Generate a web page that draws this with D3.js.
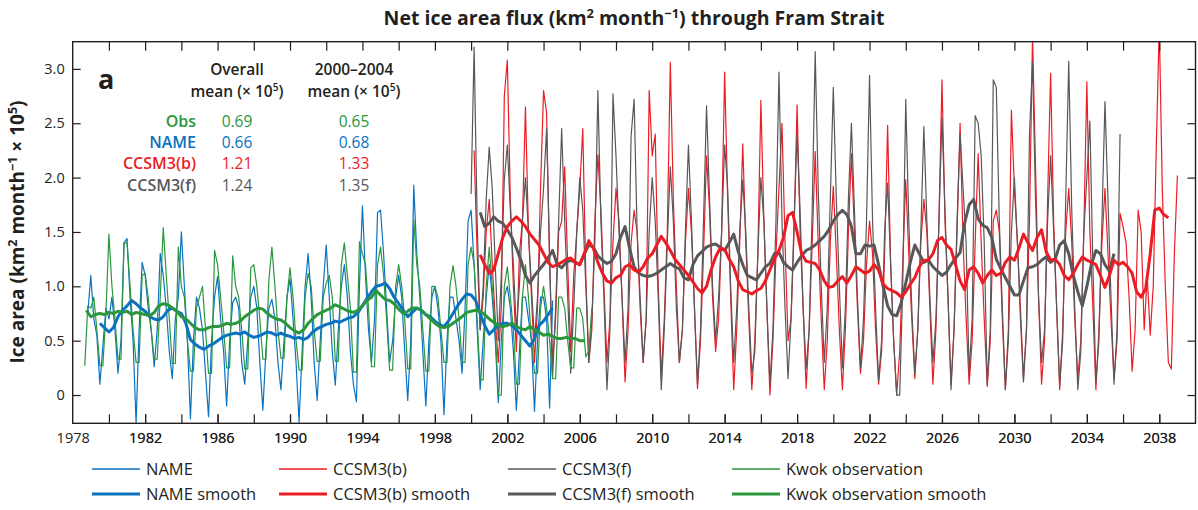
<!DOCTYPE html>
<html>
<head>
<meta charset="utf-8">
<script src="https://cdn.jsdelivr.net/npm/d3@7"></script>
<style>
body { margin: 0; background: #fff; }
svg { display: block; font-family: "Open Sans", "Noto Sans", sans-serif; }
</style>
</head>
<body>
<svg id="chart" width="1198" height="510"></svg>
<script>
// ---- data (units: 10^5 km^2 per month) ----
// raw series: one value every two months (Jan, Mar, May, Jul, Sep, Nov)
const nameStart = 1978 + 10 / 12;
const nameRaw = [0.75,
  1.1, 0.7, 0.55, 0.1, 0.45, 0.8,
  0.7, 0.9, 0.6, 0.2, 0.5, 1.4,
  1.44, 0.9, 0.5, -0.26, 0.6, 1.22,
  1.1, 0.8, 0.6, 0.26, 0.6, 1.3,
  1.1, 0.8, 0.4, 0.15, 0.7, 0.9,
  1.5, 1.0, 0.5, -0.22, 0.5, 0.9,
  0.8, 0.6, 0.2, -0.2, 0.5, 0.9,
  1.09, 0.7, 0.4, -0.1, 0.5, 0.85,
  0.9, 0.8, 0.3, 0.1, 0.5, 0.9,
  1.0, 0.8, 0.3, -0.14, 0.4, 0.8,
  0.88, 0.7, 0.3, 0.05, 0.5, 0.9,
  1.07, 0.7, 0.3, -0.25, 0.4, 1.0,
  1.3, 0.9, 0.3, -0.05, 0.5, 1.0,
  1.38, 0.9, 0.4, 0.09, 0.6, 1.0,
  1.2, 0.9, 0.4, 0.1, -0.06, 1.0,
  1.74, 1.1, 0.6, 0.3, 0.7, 1.68,
  1.7, 1.3, 0.8, 0.3, 0.5, 0.9,
  1.1, 0.9, 0.4, -0.05, 0.5, 1.93,
  1.3, 0.9, 0.4, -0.1, 0.5, 0.9,
  1.0, 0.8, 0.5, -0.18, 0.5, 0.9,
  0.9, 0.7, 0.5, 0.2, 0.8, 1.6,
  1.7, 1.2, 0.6, 0.05, 0.5, 0.9,
  1.2, 0.9, 0.5, -0.07, 0.5, 0.9,
  1.0, 0.8, 0.4, -0.14, 0.4, 0.9,
  0.9, 0.7, 0.5, -0.15, 0.5, 0.9,
  0.9, 0.7, -0.12, 0.87];

const obsStart = 1978 + 8 / 12;
const obsRaw = [0.27, 0.82,
  0.8, 0.9, 0.6, 0.27, 0.27, 0.75,
  1.48, 1.0, 0.7, 0.33, 0.33, 1.4,
  1.4, 1.0, 0.6, 0.3, 0.3, 1.1,
  1.12, 0.9, 0.6, 0.33, 0.33, 0.9,
  1.54, 1.1, 0.7, 0.29, 0.29, 1.36,
  1.0, 0.9, 0.5, 0.22, 0.22, 0.8,
  0.9, 1.0, 0.6, 0.2, 0.2, 1.33,
  1.2, 0.9, 0.6, 0.25, 0.25, 1.28,
  1.0, 0.9, 0.6, 0.24, 0.24, 1.17,
  1.2, 1.0, 0.7, 0.33, 0.33, 1.06,
  1.36, 1.0, 0.6, 0.34, 0.34, 0.9,
  1.17, 0.9, 0.5, 0.23, 0.23, 0.9,
  1.12, 1.0, 0.6, 0.31, 0.31, 0.9,
  1.03, 1.1, 0.9, 0.31, 0.31, 1.2,
  1.4, 1.1, 0.8, 0.21, 0.21, 1.41,
  1.3, 1.2, 0.8, 0.26, 0.26, 1.2,
  1.36, 1.1, 0.7, 0.23, 0.23, 1.0,
  1.2, 1.0, 0.7, 0.24, 0.24, 1.61,
  1.2, 1.0, 0.6, 0.22, 0.22, 1.0,
  1.0, 0.9, 0.6, 0.3, 0.3, 1.0,
  1.19, 1.0, 0.7, 0.3, 0.3, 1.2,
  1.36, 1.2, 0.7, 0.14, 0.14, 1.0,
  1.36, 1.0, 0.6, 0.0, 0.0, 1.0,
  1.18, 0.9, 0.6, 0.1, 0.1, 0.9,
  1.2, 0.9, 0.5, 0.2, 0.2, 0.8,
  1.0, 0.8, 0.5, 0.15, 0.15, 0.9,
  0.9, 0.8, 0.5, 0.25, 0.25, 0.8,
  0.8, 0.7, 0.35, 0.41, 0.8];

const ccsmBStart = 2000 + 2 / 12;
const ccsmBRaw = [2.25, 1.3, 0.6, 0.9, 1.5,
  1.8, 1.2, 0.7, 0.3, 0.8, 2.75,
  3.08, 1.8, 1.0, 0.4, 1.3, 1.6,
  2.65, 1.5, 0.9, 0.3, 0.8, 1.9,
  2.8, 2.6, 1.2, 0.3, 0.7, 1.5,
  1.6, 2.1, 1.2, 0.4, 1.1, 1.5,
  1.9, 2.45, 1.1, 0.3, 0.6, 1.6,
  2.21, 1.7, 1.0, 0.3, 0.7, 1.4,
  1.9, 1.6, 0.9, 0.12, 0.6, 1.4,
  1.7, 1.5, 0.8, 0.3, 0.7, 2.8,
  2.2, 2.4, 1.0, 0.17, 0.7, 1.5,
  3.06, 1.8, 1.0, 0.3, 0.6, 1.4,
  1.9, 1.5, 0.8, 0.06, 0.5, 1.3,
  2.2, 1.7, 0.9, 0.4, 0.7, 1.5,
  2.97, 1.8, 0.9, 0.05, 0.6, 1.4,
  2.31, 1.4, 0.7, 0.05, 0.5, 1.3,
  2.71, 1.6, 0.8, 0.0, 0.5, 1.3,
  1.9, 2.5, 1.4, 0.5, 0.7, 1.5,
  2.67, 1.5, 0.8, 0.06, 0.6, 1.4,
  2.24, 1.4, 0.7, 0.05, 0.5, 1.4,
  1.92, 1.3, 0.6, 0.05, 0.6, 1.5,
  2.22, 1.5, 0.8, 0.2, 0.5, 1.2,
  1.6, 1.3, 0.6, 0.1, 0.4, 1.3,
  2.48, 1.2, 0.5, 0.0, 0.4, 1.2,
  1.98, 1.3, 0.7, 0.15, 0.6, 1.4,
  1.8, 1.5, 0.8, 0.1, 0.6, 1.6,
  2.9, 1.6, 0.9, 0.1, 0.6, 1.5,
  2.5, 1.4, 0.7, 0.1, 0.5, 1.4,
  2.22, 1.4, 0.7, 0.08, 0.5, 1.6,
  1.7, 1.5, 0.7, 0.05, 0.6, 2.62,
  1.9, 1.4, 0.8, 0.15, 0.6, 1.6,
  3.3, 2.1, 0.9, 0.1, 0.5, 1.8,
  2.96, 1.6, 0.8, 0.05, 0.6, 1.5,
  1.9, 1.4, 0.7, 0.15, 0.5, 1.5,
  2.88, 1.5, 0.8, 0.05, 0.6, 1.4,
  1.9, 1.3, 0.7, 0.15, 0.5, 1.67,
  1.55, 1.4, 0.9, 0.22, 0.6, 1.7,
  1.5, 0.6, 1.1, 0.55, 1.0, 2.27,
  3.4, 1.9, 1.0, 0.3, 0.24, 1.3,
  2.02];

const ccsmFStart = 2000;
const ccsmFRaw = [1.85, 3.2, 1.6, 0.6, 1.0, 1.8,
  2.28, 1.9, 1.2, 0.5, 1.1, 1.98,
  2.3, 1.7, 1.2, 0.6, 1.0, 1.6,
  2.0, 1.5, 1.0, 0.5, 0.9, 1.5,
  1.9, 2.45, 1.3, 0.16, 0.8, 1.6,
  2.45, 1.6, 0.9, 0.2, 0.8, 1.5,
  2.0, 1.7, 1.0, 0.3, 0.7, 1.4,
  2.8, 1.6, 0.9, 0.05, 0.6, 2.77,
  2.2, 1.5, 0.9, 0.3, 0.8, 2.38,
  2.72, 1.5, 0.9, 0.3, 0.7, 1.5,
  2.0, 1.6, 0.9, 0.05, 0.6, 1.4,
  2.1, 1.6, 0.8, 0.3, 0.6, 1.5,
  2.3, 1.6, 0.8, 0.1, 0.6, 1.6,
  2.66, 1.8, 1.0, 0.5, 0.9, 1.5,
  2.3, 1.9, 1.0, 0.3, 0.8, 1.5,
  1.98, 1.5, 0.8, 0.2, 0.4, 1.3,
  2.0, 1.6, 0.8, 0.1, 0.6, 1.6,
  2.97, 1.6, 0.8, 0.15, 0.7, 1.6,
  2.4, 1.7, 0.8, 0.24, 0.6, 1.7,
  3.16, 1.9, 1.0, 0.3, 0.8, 1.8,
  2.83, 1.8, 1.0, 0.25, 0.8, 1.8,
  2.5, 1.7, 0.9, 0.25, 0.7, 1.6,
  2.94, 1.6, 0.8, 0.13, 0.5, 1.5,
  1.95, 1.2, 0.5, 0.0, 0.0, 1.0,
  2.72, 1.6, 0.8, 0.2, 0.6, 1.5,
  2.47, 1.6, 0.9, 0.3, 0.7, 1.6,
  2.55, 1.7, 0.9, 0.05, 0.6, 1.6,
  2.4, 1.9, 1.4, 0.2, 0.7, 2.57,
  2.5, 2.2, 1.4, 0.1, 0.6, 2.9,
  2.83, 1.6, 0.8, 0.05, 0.5, 1.5,
  2.0, 1.4, 0.7, 0.12, 0.6, 2.4,
  3.06, 1.8, 0.9, 0.3, 0.6, 1.6,
  2.2, 1.5, 0.8, 0.1, 0.5, 1.8,
  3.07, 1.7, 0.8, 0.05, 0.4, 1.5,
  2.0, 2.52, 1.2, 0.12, 0.5, 1.6,
  2.7, 1.8, 0.9, 0.1, 0.6, 2.4];

// smoothed series: one value per quarter
const nameSmoothStart = 1979.5;
const nameSmooth = [0.66, 0.62,
  0.58, 0.62, 0.72, 0.78,
  0.82, 0.87, 0.84, 0.8,
  0.77, 0.72, 0.7, 0.69,
  0.72, 0.78, 0.8, 0.77,
  0.75, 0.66, 0.51, 0.47,
  0.44, 0.42, 0.45, 0.47,
  0.5, 0.53, 0.55, 0.56,
  0.57, 0.56, 0.58, 0.55,
  0.53, 0.54, 0.56, 0.58,
  0.57, 0.55, 0.57, 0.55,
  0.54, 0.52, 0.53, 0.51,
  0.53, 0.58, 0.61, 0.63,
  0.65, 0.66, 0.68, 0.67,
  0.69, 0.71, 0.72, 0.76,
  0.82, 0.89, 0.95, 1.0,
  1.01, 1.03, 0.98, 0.9,
  0.84, 0.78, 0.72, 0.76,
  0.8, 0.78, 0.74, 0.72,
  0.68, 0.65, 0.63, 0.68,
  0.75, 0.82, 0.88, 0.93,
  0.92, 0.87, 0.75, 0.64,
  0.56, 0.6, 0.64, 0.66,
  0.66, 0.64, 0.6, 0.55,
  0.5, 0.45, 0.52, 0.64,
  0.68, 0.74, 0.8];

const obsSmoothStart = 1978.75;
const obsSmooth = [0.78,
  0.72, 0.74, 0.75, 0.74,
  0.76, 0.75, 0.77, 0.76,
  0.77, 0.74, 0.76, 0.75,
  0.74, 0.73, 0.76, 0.82,
  0.84, 0.83, 0.8, 0.77,
  0.72, 0.7, 0.66, 0.62,
  0.6, 0.6, 0.62, 0.63,
  0.63, 0.64, 0.66, 0.65,
  0.66, 0.68, 0.72, 0.75,
  0.78, 0.8, 0.79, 0.75,
  0.72, 0.7, 0.69, 0.66,
  0.62, 0.59, 0.57, 0.6,
  0.66, 0.7, 0.74, 0.76,
  0.78, 0.8, 0.83, 0.81,
  0.79, 0.77, 0.76, 0.78,
  0.82, 0.87, 0.9, 0.96,
  0.92, 0.88, 0.87, 0.84,
  0.79, 0.75, 0.77, 0.8,
  0.8, 0.78, 0.74, 0.7,
  0.66, 0.63, 0.62, 0.63,
  0.66, 0.69, 0.72, 0.76,
  0.77, 0.78, 0.77, 0.74,
  0.7, 0.67, 0.64, 0.63,
  0.64, 0.66, 0.63, 0.61,
  0.6, 0.63, 0.6, 0.58,
  0.55, 0.56, 0.54, 0.52,
  0.52, 0.53, 0.52, 0.52,
  0.5, 0.5];

const ccsmBSmoothStart = 2000.5;
const ccsmBSmooth = [1.29, 1.2,
  1.12, 1.15, 1.3, 1.45,
  1.55, 1.6, 1.64, 1.6,
  1.55, 1.48, 1.43, 1.38,
  1.3, 1.22, 1.18, 1.2,
  1.22, 1.25, 1.26, 1.22,
  1.2, 1.3, 1.42, 1.35,
  1.22, 1.12, 1.05, 1.03,
  1.08, 1.1, 1.18, 1.2,
  1.15, 1.13, 1.18, 1.26,
  1.3, 1.38, 1.46, 1.4,
  1.33, 1.25, 1.2, 1.15,
  1.1, 1.04, 0.98, 0.94,
  1.0, 1.15, 1.27, 1.35,
  1.34, 1.25, 1.18, 1.05,
  0.97, 0.95, 0.93, 0.96,
  0.98, 1.05, 1.15, 1.25,
  1.33, 1.45, 1.65, 1.68,
  1.5, 1.3, 1.23, 1.22,
  1.21, 1.15, 1.05, 0.99,
  1.0, 1.05, 1.09, 1.03,
  1.1, 1.18, 1.15, 1.12,
  1.14, 1.2, 1.15, 1.02,
  0.98, 0.96, 0.94, 0.9,
  0.95, 1.02, 1.08, 1.18,
  1.24, 1.24, 1.3, 1.42,
  1.45, 1.38, 1.34, 1.2,
  1.05, 0.97, 1.15, 1.18,
  1.12, 1.03, 1.1, 1.15,
  1.1, 1.12, 1.22, 1.27,
  1.24, 1.35, 1.48, 1.4,
  1.33, 1.45, 1.52, 1.32,
  1.24, 1.25, 1.2, 1.1,
  1.06, 1.12, 1.2, 1.27,
  1.24, 1.22, 1.2, 1.1,
  0.99, 1.1, 1.24, 1.2,
  1.22, 1.18, 1.12, 0.95,
  0.9, 0.98, 1.3, 1.7,
  1.72, 1.66, 1.63];

const ccsmFSmoothStart = 2000.5;
const ccsmFSmooth = [1.68, 1.55,
  1.58, 1.64, 1.6, 1.58,
  1.52, 1.45, 1.35, 1.24,
  1.1, 1.03, 1.1, 1.15,
  1.2, 1.26, 1.33, 1.2,
  1.17, 1.22, 1.24, 1.22,
  1.2, 1.3, 1.38, 1.36,
  1.28, 1.24, 1.21, 1.23,
  1.3, 1.45, 1.55, 1.35,
  1.18, 1.12, 1.1, 1.09,
  1.1, 1.12, 1.15, 1.18,
  1.21, 1.18, 1.16, 1.08,
  1.06, 1.2, 1.28, 1.32,
  1.36, 1.38, 1.39, 1.36,
  1.33, 1.4, 1.48, 1.32,
  1.2, 1.1, 1.08, 1.06,
  1.12, 1.18, 1.21, 1.3,
  1.31, 1.22, 1.18, 1.15,
  1.22, 1.28, 1.33, 1.35,
  1.38, 1.42, 1.46, 1.52,
  1.6, 1.66, 1.7, 1.66,
  1.55, 1.3, 1.3, 1.38,
  1.37, 1.38, 1.2, 1.0,
  0.82, 0.74, 0.73, 0.85,
  1.03, 1.22, 1.38, 1.3,
  1.22, 1.24, 1.18, 1.14,
  1.1, 1.13, 1.2, 1.26,
  1.31, 1.58, 1.75, 1.8,
  1.62, 1.56, 1.54, 1.45,
  1.25, 1.16, 1.08, 1.0,
  0.92, 0.92, 1.05, 1.17,
  1.18, 1.2, 1.24, 1.27,
  1.22, 1.25, 1.38, 1.42,
  1.3, 1.1, 0.95, 0.82,
  1.0, 1.2, 1.33, 1.3,
  1.2, 1.14, 1.3];

// tick labels and table text
const yTicks = [0, 0.5, 1.0, 1.5, 2.0, 2.5, 3.0];
const xTicks = d3.range(1980, 2040, 2);
const xLabels = [1978, 1982, 1986, 1990, 1994, 1998, 2002, 2006, 2010, 2014, 2018, 2022, 2026, 2030, 2034, 2038];
const tableNames = ['Obs', 'NAME', 'CCSM3(b)', 'CCSM3(f)'];
const overallMeans = ['0.69', '0.66', '1.21', '1.24'];
const recentMeans = ['0.65', '0.68', '1.33', '1.35'];

const colors = { name: '#0a72c0', obs: '#2a973d', b: '#ec1c24', f: '#58585a' };
const ink = '#231f20';

// ---- layout ----
const svg = d3.select('#chart');
const plotLeft = 72.7, plotRight = 1195.5, plotTop = 41.7, plotBottom = 423.3;

const x = d3.scaleLinear().domain([1978, 2040]).range([plotLeft, plotRight]);
const y = d3.scaleLinear().domain([-0.26, 3.25]).range([plotBottom, plotTop]);

svg.append('defs').append('clipPath').attr('id', 'plot-clip')
  .append('rect').attr('x', plotLeft).attr('y', plotTop)
  .attr('width', plotRight - plotLeft).attr('height', plotBottom - plotTop);

function toPoints(start, values, perYear) {
  return values.map((v, i) => [start + i / perYear, v]);
}

const line = d3.line().x(d => x(d[0])).y(d => y(d[1]));

const plot = svg.append('g').attr('clip-path', 'url(#plot-clip)');

const thin = [
  { pts: toPoints(ccsmBStart, ccsmBRaw, 6), color: colors.b },
  { pts: toPoints(ccsmFStart, ccsmFRaw, 6), color: colors.f },
  { pts: toPoints(nameStart, nameRaw, 6), color: colors.name },
  { pts: toPoints(obsStart, obsRaw, 6), color: colors.obs }
];
const thick = [
  { pts: toPoints(ccsmFSmoothStart, ccsmFSmooth, 4), color: colors.f },
  { pts: toPoints(ccsmBSmoothStart, ccsmBSmooth, 4), color: colors.b },
  { pts: toPoints(nameSmoothStart, nameSmooth, 4), color: colors.name },
  { pts: toPoints(obsSmoothStart, obsSmooth, 4), color: colors.obs }
];

thin.forEach(s => {
  plot.append('path').datum(s.pts).attr('d', line)
    .attr('fill', 'none').attr('stroke', s.color)
    .attr('stroke-width', 1.2).attr('stroke-linejoin', 'round');
});
thick.forEach(s => {
  plot.append('path').datum(s.pts).attr('d', line)
    .attr('fill', 'none').attr('stroke', s.color)
    .attr('stroke-width', 3).attr('stroke-linejoin', 'round');
});

// ---- axes (ticks point inward on all four sides) ----
const tickFont = '14.5px';
const xFmt = d => xLabels.includes(d) ? String(d) : '';

const gx = svg.append('g').attr('transform', `translate(0,${plotBottom})`)
  .call(d3.axisBottom(x).tickValues(xLabels.concat(xTicks).sort()).tickFormat(xFmt)
    .tickSize(-9).tickPadding(9));
svg.append('g').attr('transform', `translate(0,${plotTop})`)
  .call(d3.axisTop(x).tickValues(xTicks).tickFormat('').tickSize(-9));
svg.append('g').attr('transform', `translate(${plotLeft},0)`)
  .call(d3.axisLeft(y).tickValues(yTicks).tickFormat(d => d === 0 ? '0' : d.toFixed(1))
    .tickSize(-8).tickPadding(8));
svg.append('g').attr('transform', `translate(${plotRight},0)`)
  .call(d3.axisRight(y).tickValues(yTicks).tickFormat('').tickSize(-8));

svg.selectAll('.domain').remove();
svg.selectAll('.tick line').attr('stroke', ink).attr('stroke-width', 1.2);
svg.selectAll('.tick text').attr('fill', ink).style('font-size', tickFont)
  .style('font-family', '"Open Sans", sans-serif');
// no tick mark where 1978 sits on the left frame
gx.selectAll('.tick').filter(d => d === 1978).select('line').remove();

svg.append('rect').attr('x', plotLeft).attr('y', plotTop)
  .attr('width', plotRight - plotLeft).attr('height', plotBottom - plotTop)
  .attr('fill', 'none').attr('stroke', ink).attr('stroke-width', 1.4);

// ---- text helpers ----
function rich(g, parts, size) {
  const supSize = size * 0.66, shift = size * 0.36;
  let up = false;
  parts.forEach(p => {
    const isSup = Array.isArray(p);
    const t = g.append('tspan').text(isSup ? p[0] : p);
    if (isSup) t.attr('font-size', supSize).attr('dy', -shift);
    else {
      t.attr('font-size', size);
      if (up) t.attr('dy', shift);
    }
    up = isSup;
  });
  return g;
}

// title
rich(svg.append('text').attr('x', 634).attr('y', 25).attr('text-anchor', 'middle')
  .attr('font-weight', 700).attr('fill', ink),
  ['Net ice area flux (km', ['2'], ' month', ['\u22121'], ') through Fram Strait'], 19.5);

// y-axis title
rich(svg.append('text').attr('transform', 'translate(24,232) rotate(-90)')
  .attr('text-anchor', 'middle').attr('font-weight', 700).attr('fill', ink),
  ['Ice area (km', ['2'], ' month', ['\u22121'], ' \u00d7 10', ['5'], ')'], 19);

// panel letter
svg.append('text').attr('x', 98).attr('y', 89).attr('font-size', 27)
  .attr('font-weight', 700).attr('fill', ink).text('a');

// means table
const colA = 237, colB = 354;
svg.append('text').attr('x', colA).attr('y', 75).attr('text-anchor', 'middle')
  .attr('font-size', 15.5).attr('font-weight', 600).attr('fill', ink).text('Overall');
rich(svg.append('text').attr('x', colA).attr('y', 97).attr('text-anchor', 'middle')
  .attr('font-weight', 600).attr('fill', ink), ['mean (\u00d7 10', ['5'], ')'], 15.5);
svg.append('text').attr('x', colB).attr('y', 75).attr('text-anchor', 'middle')
  .attr('font-size', 15.5).attr('font-weight', 600).attr('fill', ink).text('2000\u20132004');
rich(svg.append('text').attr('x', colB).attr('y', 97).attr('text-anchor', 'middle')
  .attr('font-weight', 600).attr('fill', ink), ['mean (\u00d7 10', ['5'], ')'], 15.5);

const rowColors = [colors.obs, colors.name, colors.b, colors.f];
tableNames.forEach((n, i) => {
  const yy = 127 + i * 21.2;
  svg.append('text').attr('x', 196).attr('y', yy).attr('text-anchor', 'end')
    .attr('font-size', 16).attr('font-weight', 600).attr('fill', rowColors[i]).text(n);
  svg.append('text').attr('x', colA).attr('y', yy).attr('text-anchor', 'middle')
    .attr('font-size', 15.5).attr('fill', rowColors[i]).text(overallMeans[i]);
  svg.append('text').attr('x', colB).attr('y', yy).attr('text-anchor', 'middle')
    .attr('font-size', 15.5).attr('fill', rowColors[i]).text(recentMeans[i]);
});

// ---- legend ----
const legendItems = [
  { label: 'NAME', color: colors.name, w: 1.3, col: 0, row: 0 },
  { label: 'NAME smooth', color: colors.name, w: 3, col: 0, row: 1 },
  { label: 'CCSM3(b)', color: colors.b, w: 1.3, col: 1, row: 0 },
  { label: 'CCSM3(b) smooth', color: colors.b, w: 3, col: 1, row: 1 },
  { label: 'CCSM3(f)', color: colors.f, w: 1.3, col: 2, row: 0 },
  { label: 'CCSM3(f) smooth', color: colors.f, w: 3, col: 2, row: 1 },
  { label: 'Kwok observation', color: colors.obs, w: 1.3, col: 3, row: 0 },
  { label: 'Kwok observation smooth', color: colors.obs, w: 3, col: 3, row: 1 }
];
const legendX = [92, 279, 508, 732];
const legendY = [469, 494];
const lg = svg.append('g');
legendItems.forEach(it => {
  const lx = legendX[it.col], ly = legendY[it.row];
  lg.append('line').attr('x1', lx).attr('x2', lx + 48).attr('y1', ly).attr('y2', ly)
    .attr('stroke', it.color).attr('stroke-width', it.w);
  lg.append('text').attr('x', lx + 54).attr('y', ly + 5.5).attr('font-size', 16.5)
    .attr('fill', ink).text(it.label);
});
</script>
</body>
</html>
